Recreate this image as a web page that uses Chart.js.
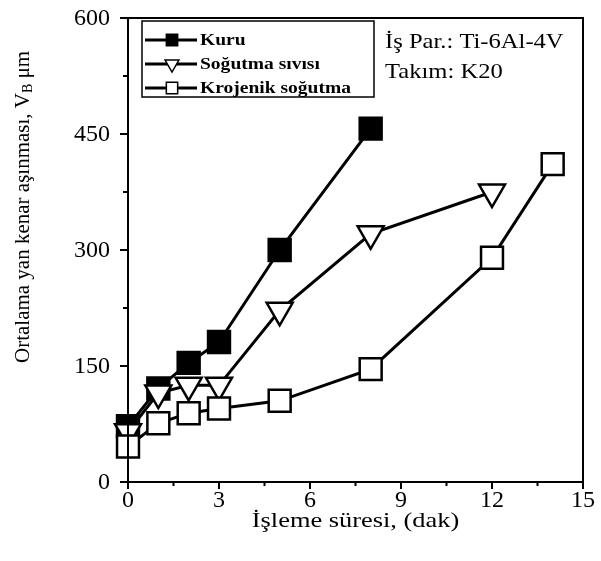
<!DOCTYPE html>
<html>
<head>
<meta charset="utf-8">
<script src="https://cdn.jsdelivr.net/npm/chart.js@4.4.0/dist/chart.umd.min.js"></script>
<style>
  html, body { margin: 0; padding: 0; background: #fff; }
  #wrap { width: 601px; height: 561px; }
</style>
</head>
<body>
<div id="wrap"><canvas id="wearChart" width="601" height="561"></canvas></div>
<script>
// Data
const seriesNames = ['Kuru', 'Soğutma sıvısı', 'Krojenik soğutma'];
const kuruTime = [0, 1, 2, 3, 5, 8];
const kuruWear = [72, 121, 154, 181, 300, 457];
const sivisTime = [0, 1, 2, 3, 5, 8, 12];
const sivisWear = [65, 115, 125, 125, 222, 321, 375];
const krojTime = [0, 1, 2, 3, 5, 8, 12, 14];
const krojWear = [46, 76, 89, 95, 105, 146, 290, 411];
const xMajorTicks = [0, 3, 6, 9, 12, 15];
const yMajorTicks = [0, 150, 300, 450, 600];
const infoLines = ['İş Par.: Ti-6Al-4V', 'Takım: K20'];
const xTitle = 'İşleme süresi, (dak)';

const serif = '"Liberation Serif", "Times New Roman", serif';

function toPoints(xs, ys) {
  return xs.map((x, i) => ({ x: x, y: ys[i] }));
}

const styles = [
  { style: 'rect', fill: '#000', radius: 15.5, rotation: 0 },
  { style: 'triangle', fill: '#fff', radius: 15, rotation: 180 },
  { style: 'rect', fill: '#fff', radius: 15.5, rotation: 0 }
];

// draws text a bit wider, like the scanned original
function wideText(ctx, text, x, y, sx) {
  ctx.save();
  ctx.translate(x, y);
  ctx.scale(sx, 1);
  ctx.fillText(text, 0, 0);
  ctx.restore();
}

// Frame, ticks + labels, legend box, notes and axis titles
const extrasPlugin = {
  id: 'extras',
  afterDraw(chart) {
    const ctx = chart.ctx;
    const area = chart.chartArea;
    const xs = chart.scales.x;
    const ys = chart.scales.y;
    ctx.save();
    ctx.strokeStyle = '#000';
    ctx.fillStyle = '#000';
    ctx.lineWidth = 2;
    ctx.strokeRect(area.left, area.top, area.right - area.left, area.bottom - area.top);

    // ticks
    for (let v = 0; v <= 15; v += 1.5) {
      const px = xs.getPixelForValue(v);
      const len = (v % 3 === 0) ? 7 : 4;
      ctx.beginPath();
      ctx.moveTo(px, area.bottom);
      ctx.lineTo(px, area.bottom + len);
      ctx.stroke();
    }
    for (let v = 0; v <= 600; v += 75) {
      const py = ys.getPixelForValue(v);
      const len = (v % 150 === 0) ? 8 : 5;
      ctx.beginPath();
      ctx.moveTo(area.left - len, py);
      ctx.lineTo(area.left, py);
      ctx.stroke();
    }

    // tick labels
    ctx.font = '24px ' + serif;
    ctx.textBaseline = 'middle';
    ctx.textAlign = 'center';
    xMajorTicks.forEach(v => {
      ctx.fillText(String(v), xs.getPixelForValue(v), 501);
    });
    ctx.textAlign = 'right';
    yMajorTicks.forEach(v => {
      ctx.fillText(String(v), 110, ys.getPixelForValue(v) + 1);
    });

    // legend box
    ctx.lineWidth = 1.5;
    ctx.strokeRect(142, 21, 232, 76);
    ctx.font = 'bold 16px ' + serif;
    ctx.textAlign = 'left';
    const rowY = [40, 64, 88];
    chart.data.datasets.forEach((ds, i) => {
      const y = rowY[i];
      ctx.lineWidth = 3;
      ctx.beginPath();
      ctx.moveTo(145, y);
      ctx.lineTo(197, y);
      ctx.stroke();
      ctx.fillStyle = styles[i].fill;
      ctx.lineWidth = 1.5;
      Chart.helpers.drawPoint(ctx, {
        pointStyle: styles[i].style,
        rotation: styles[i].rotation,
        radius: 8,
        borderWidth: 1.5
      }, 172, y);
      ctx.fillStyle = '#000';
      wideText(ctx, ds.label, 200, y + 1, 1.22);
    });

    // notes
    ctx.font = '21px ' + serif;
    wideText(ctx, infoLines[0], 385, 42, 1.17);
    wideText(ctx, infoLines[1], 385, 72, 1.17);

    // x title
    ctx.textAlign = 'center';
    ctx.font = '22px ' + serif;
    wideText(ctx, xTitle, (area.left + area.right) / 2, 521, 1.2);

    // y title with subscript
    ctx.translate(23, 363);
    ctx.rotate(-Math.PI / 2);
    ctx.textAlign = 'left';
    const part1 = 'Ortalama yan kenar aşınması, V';
    ctx.font = '21px ' + serif;
    ctx.fillText(part1, 0, 0);
    let w = ctx.measureText(part1).width;
    ctx.font = '14px ' + serif;
    ctx.fillText('B', w, 5);
    w += ctx.measureText('B').width;
    ctx.font = '21px ' + serif;
    ctx.fillText(' μm', w, 0);
    ctx.restore();
  }
};

const datasets = [
  { label: seriesNames[0], data: toPoints(kuruTime, kuruWear), order: 2 },
  { label: seriesNames[1], data: toPoints(sivisTime, sivisWear), order: 1 },
  { label: seriesNames[2], data: toPoints(krojTime, krojWear), order: 0 }
].map((ds, i) => Object.assign(ds, {
  borderColor: '#000',
  borderWidth: 3,
  backgroundColor: styles[i].fill,
  pointStyle: styles[i].style,
  pointRotation: styles[i].rotation,
  pointRadius: styles[i].radius,
  pointBorderWidth: 2.5,
  pointBorderColor: '#000',
  pointBackgroundColor: styles[i].fill,
  tension: 0,
  clip: false,
  fill: false
}));

new Chart(document.getElementById('wearChart'), {
  type: 'line',
  data: { datasets: datasets },
  options: {
    responsive: false,
    animation: false,
    layout: { padding: { top: 15, right: 12, left: 0, bottom: 0 } },
    plugins: { legend: { display: false }, tooltip: { enabled: false } },
    scales: {
      x: {
        type: 'linear',
        min: 0,
        max: 15,
        afterFit: s => { s.height = 79; },
        grid: { display: false, drawTicks: false },
        border: { display: false },
        ticks: { display: false }
      },
      y: {
        type: 'linear',
        min: 0,
        max: 600,
        afterFit: s => { s.width = 128; },
        grid: { display: false, drawTicks: false },
        border: { display: false },
        ticks: { display: false }
      }
    }
  },
  plugins: [extrasPlugin]
});
</script>
</body>
</html>
